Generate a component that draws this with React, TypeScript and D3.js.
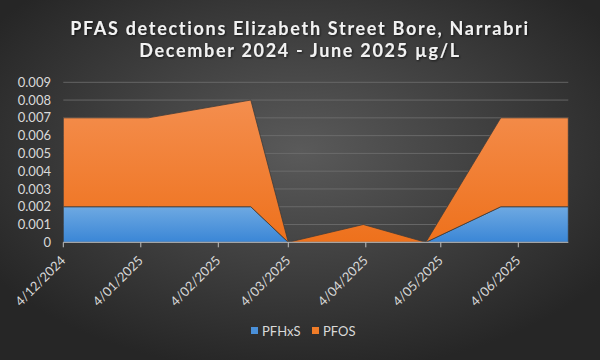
import React from 'react';
import * as d3 from 'd3';

const sampleDates = ['2024-12-04', '2025-01-07', '2025-02-17', '2025-03-04', '2025-04-03', '2025-04-28', '2025-05-28', '2025-06-24'];
const pfhxsValues = [0.002, 0.002, 0.002, 0, 0, 0, 0.002, 0.002];
const pfosValues = [0.005, 0.005, 0.006, 0, 0.001, 0, 0.005, 0.005];
const seriesNames = ['PFHxS', 'PFOS'];
const tickDates = ['2024-12-04', '2025-01-04', '2025-02-04', '2025-03-04', '2025-04-04', '2025-05-04', '2025-06-04'];
const tickLabels = ['4/12/2024', '4/01/2025', '4/02/2025', '4/03/2025', '4/04/2025', '4/05/2025', '4/06/2025'];
const yTicks = [0, 0.001, 0.002, 0.003, 0.004, 0.005, 0.006, 0.007, 0.008, 0.009];
const yTickLabels = ['0', '0.001', '0.002', '0.003', '0.004', '0.005', '0.006', '0.007', '0.008', '0.009'];
const titleLines = ['PFAS detections Elizabeth Street Bore, Narrabri', 'December 2024 - June 2025 µg/L'];

const W = 600;
const H = 360;
const parse = d3.utcParse('%Y-%m-%d');

export default function App() {
  const margin = { left: 63.3, right: 600 - 568.3, top: 82.3, bottom: 360 - 242.3 };
  const x = d3
    .scaleUtc()
    .domain([parse(sampleDates[0])!, parse(sampleDates[sampleDates.length - 1])!])
    .range([margin.left, W - margin.right]);
  const y = d3.scaleLinear().domain([0, 0.009]).range([H - margin.bottom, margin.top]);

  const rows = sampleDates.map((d, i) => ({ date: parse(d)!, PFHxS: pfhxsValues[i], PFOS: pfosValues[i] }));
  const stacked = d3.stack<any>().keys(seriesNames)(rows);
  const area = d3
    .area<any>()
    .x((d) => x(d.data.date))
    .y0((d) => y(d[0]))
    .y1((d) => y(d[1]));

  const fills = ['url(#gBlue)', 'url(#gOrange)'];
  const legendColors = ['#4a90d9', '#f07c28'];
  const font = 'Lato, "Open Sans", sans-serif';
  const [x0, x1] = x.range();

  return (
    <svg width={W} height={H} style={{ display: 'block', position: 'absolute', left: 0, top: 0 }}>
      <defs>
        <radialGradient id="bg" cx="50%" cy="42%" r="62%">
          <stop offset="0%" stopColor="#5a5a5a" />
          <stop offset="100%" stopColor="#262626" />
        </radialGradient>
        <linearGradient id="gBlue" x1="0" y1="0" x2="0" y2="1">
          <stop offset="0%" stopColor="#6ea9e2" />
          <stop offset="100%" stopColor="#3a86d6" />
        </linearGradient>
        <linearGradient id="gOrange" x1="0" y1="0" x2="0" y2="1">
          <stop offset="0%" stopColor="#f48e4e" />
          <stop offset="100%" stopColor="#ee711c" />
        </linearGradient>
        <filter id="ts" x="-5%" y="-20%" width="110%" height="140%">
          <feDropShadow dx="1" dy="1" stdDeviation="0.8" floodColor="#000" floodOpacity="0.6" />
        </filter>
      </defs>
      <rect x={0} y={0} width={W} height={H} fill="url(#bg)" />

      {titleLines.map((t, i) => (
        <text
          key={i}
          x={W / 2}
          y={35 + i * 22}
          textAnchor="middle"
          fill="#f2f2f2"
          fontFamily={font}
          fontWeight={700}
          fontSize={18}
          letterSpacing={1.7}
          filter="url(#ts)"
        >
          {t}
        </text>
      ))}

      {yTicks.map((v, i) =>
        i === 0 ? null : (
          <line key={i} x1={x0} x2={x1} y1={y(v)} y2={y(v)} stroke="#707070" strokeWidth={1} opacity={0.8} />
        )
      )}

      {stacked.map((s, i) => (
        <path key={s.key} d={area(s) || ''} fill={fills[i]} stroke="#3a3a3a" strokeWidth={0.75} />
      ))}

      <line x1={x0} x2={x1} y1={y(0)} y2={y(0)} stroke="#bfbfbf" strokeWidth={1} />
      {tickDates.map((d, i) => {
        const tx = x(parse(d)!);
        return (
          <g key={i}>
            <line x1={tx} x2={tx} y1={y(0)} y2={y(0) + 5} stroke="#bfbfbf" strokeWidth={1} />
            <text
              transform={`translate(${tx + 3},${y(0) + 19}) rotate(-45)`}
              textAnchor="end"
              fill="#d9d9d9"
              fontFamily={font}
              fontSize={13}
            >
              {tickLabels[i]}
            </text>
          </g>
        );
      })}

      {yTicks.map((v, i) => (
        <text
          key={i}
          x={51}
          y={y(v)}
          dy="0.35em"
          textAnchor="end"
          fill="#d9d9d9"
          fontFamily={font}
          fontSize={13}
        >
          {yTickLabels[i]}
        </text>
      ))}

      {seriesNames.map((name, i) => {
        const lx = i === 0 ? 251 : 312;
        return (
          <g key={name}>
            <rect x={lx} y={327} width={7} height={7} fill={legendColors[i]} />
            <text x={lx + 11} y={331} dy="0.35em" fill="#d9d9d9" fontFamily={font} fontSize={13}>
              {name}
            </text>
          </g>
        );
      })}
    </svg>
  );
}
